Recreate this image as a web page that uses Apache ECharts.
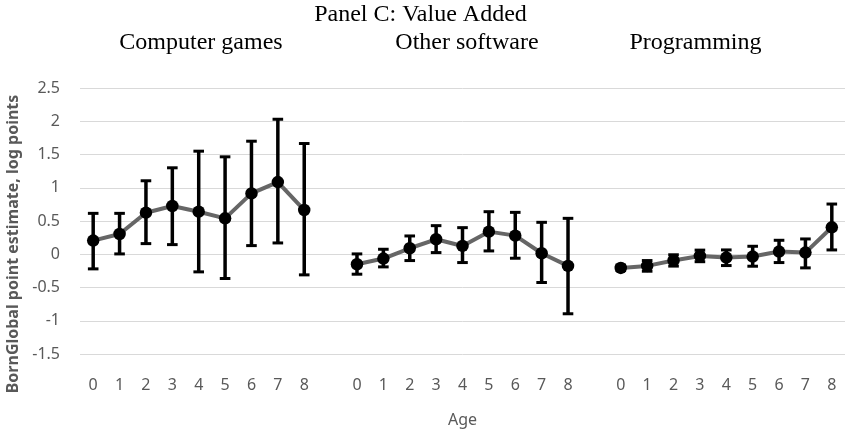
<!DOCTYPE html>
<html>
<head>
<meta charset="utf-8">
<script src="https://cdn.jsdelivr.net/npm/echarts@6/dist/echarts.min.js"></script>
<style>html,body{margin:0;padding:0;background:#fff;}#c{width:845px;height:433px;}</style>
</head>
<body>
<div id="c"></div>
<script>
// ---- data ----
const ageLabels = ['0','1','2','3','4','5','6','7','8'];
const panelTitles = ['Computer games','Other software','Programming'];
const yTicks = { min: -1.5, max: 2.5, interval: 0.5 };

const gamesEst  = [0.205, 0.305, 0.625, 0.725, 0.64, 0.54, 0.915, 1.085, 0.665];
const gamesLow  = [-0.22, 0.005, 0.16, 0.145, -0.265, -0.365, 0.13, 0.17, -0.31];
const gamesHigh = [0.615, 0.615, 1.105, 1.30, 1.55, 1.465, 1.70, 2.03, 1.665];

const softEst  = [-0.15, -0.065, 0.09, 0.225, 0.125, 0.34, 0.28, 0.015, -0.175];
const softLow  = [-0.30, -0.19, -0.095, 0.025, -0.125, 0.05, -0.06, -0.425, -0.895];
const softHigh = [0.005, 0.075, 0.275, 0.43, 0.40, 0.64, 0.63, 0.48, 0.54];

const progEst  = [-0.205, -0.175, -0.093, -0.025, -0.05, -0.035, 0.04, 0.025, 0.405];
const progLow  = [-0.245, -0.255, -0.178, -0.112, -0.17, -0.18, -0.125, -0.205, 0.065];
const progHigh = [-0.165, -0.095, -0.008, 0.062, 0.065, 0.12, 0.21, 0.23, 0.755];

// ---- build category axis and series ----
const groups = [[gamesEst, gamesLow, gamesHigh],[softEst, softLow, softHigh],[progEst, progLow, progHigh]];
const categories = [];
const lineData = [];
const errData = [];
groups.forEach((g, gi) => {
  if (gi > 0) { categories.push(''); lineData.push('-'); }
  ageLabels.forEach((lab, i) => {
    const idx = categories.length;
    categories.push(lab);
    lineData.push(g[0][i]);
    errData.push([idx, g[1][i], g[2][i]]);
  });
});

const chart = echarts.init(document.getElementById('c'), null, {renderer: 'canvas'});
const labelFont = 'Noto Sans';
chart.setOption({
  animation: false,
  backgroundColor: '#fff',
  grid: { left: 80, right: -6, top: 88, bottom: 79 },
  xAxis: {
    type: 'category',
    data: categories,
    boundaryGap: true,
    axisLine: { show: false },
    axisTick: { show: false },
    axisLabel: { interval: 0, color: '#595959', fontFamily: labelFont, fontSize: 16, margin: 23 },
    name: 'Age',
    nameLocation: 'middle',
    nameGap: 58,
    nameTextStyle: { color: '#595959', fontFamily: labelFont, fontSize: 16 }
  },
  yAxis: {
    type: 'value',
    min: yTicks.min, max: yTicks.max, interval: yTicks.interval,
    axisLine: { show: false },
    axisTick: { show: false },
    axisLabel: { color: '#595959', fontFamily: labelFont, fontSize: 16, margin: 20 },
    splitLine: { lineStyle: { color: '#d9d9d9', width: 1 } }
  },
  graphic: [
    { type: 'text', x: 420.5, y: 15, style: { text: 'Panel C: Value Added', font: '24px "Liberation Serif"', fill: '#000', align: 'center', verticalAlign: 'middle' } },
    { type: 'text', x: 201, y: 43, style: { text: panelTitles[0], font: '24px "Liberation Serif"', fill: '#000', align: 'center', verticalAlign: 'middle' } },
    { type: 'text', x: 467, y: 43, style: { text: panelTitles[1], font: '24px "Liberation Serif"', fill: '#000', align: 'center', verticalAlign: 'middle' } },
    { type: 'text', x: 695.5, y: 43, style: { text: panelTitles[2], font: '24px "Liberation Serif"', fill: '#000', align: 'center', verticalAlign: 'middle' } },
    { type: 'text', x: 13, y: 244, rotation: Math.PI / 2, style: { text: 'BornGlobal point estimate, log points', font: 'bold 16px "Noto Sans"', fill: '#595959', align: 'center', verticalAlign: 'middle' } }
  ],
  series: [
    {
      type: 'line',
      data: lineData,
      connectNulls: false,
      symbol: 'circle',
      symbolSize: 12.5,
      itemStyle: { color: '#000' },
      lineStyle: { color: '#666666', width: 4 },
      z: 2
    },
    {
      type: 'custom',
      data: errData,
      z: 3,
      renderItem: function (params, api) {
        const x = api.value(0);
        const lo = api.coord([x, api.value(1)]);
        const hi = api.coord([x, api.value(2)]);
        const cw = 5.3;
        return {
          type: 'group',
          children: [
            { type: 'line', shape: { x1: lo[0], y1: lo[1], x2: hi[0], y2: hi[1] }, style: { stroke: '#000', lineWidth: 3.5 } },
            { type: 'line', shape: { x1: hi[0] - cw, y1: hi[1], x2: hi[0] + cw, y2: hi[1] }, style: { stroke: '#000', lineWidth: 3 } },
            { type: 'line', shape: { x1: lo[0] - cw, y1: lo[1], x2: lo[0] + cw, y2: lo[1] }, style: { stroke: '#000', lineWidth: 3 } }
          ]
        };
      }
    }
  ]
});
</script>
</body>
</html>
